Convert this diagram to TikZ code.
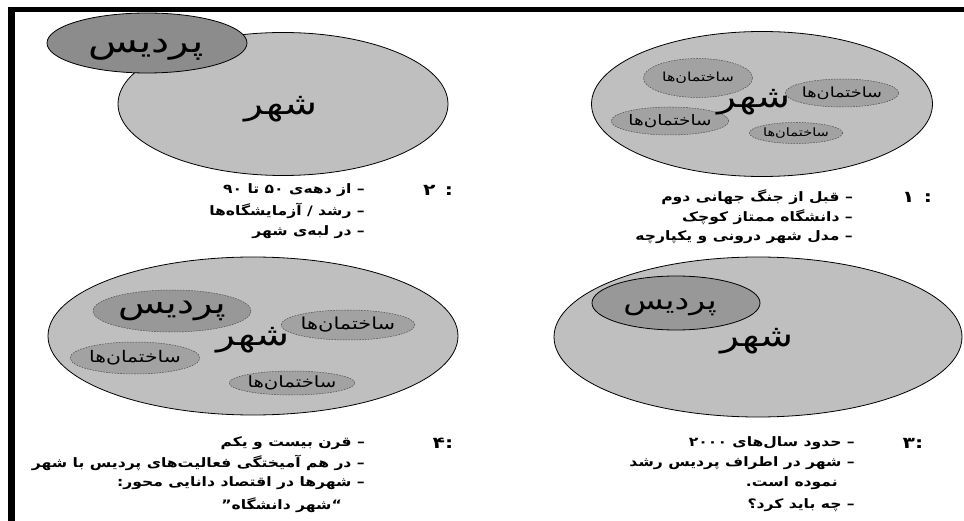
\documentclass[tikz,border=0pt]{standalone}
\usepackage{fontspec}
\usetikzlibrary{shapes.geometric}
\TeXXeTstate=1
\newfontfamily\arabicfont[Script=Arabic, FakeStretch=1.27]{DejaVu Sans}
\newfontfamily\itemarabic[Script=Arabic, FakeStretch=1.2]{DejaVu Sans}
\definecolor{cityfill}{RGB}{191,191,191}
\definecolor{campusdark}{RGB}{140,140,140}
\definecolor{campusmid}{RGB}{152,152,152}
\definecolor{bldgfill}{RGB}{162,162,162}
\newcommand\itemfont{\itemarabic\bfseries\fontsize{13}{15}\selectfont}
\newcommand\fs[1]{\arabicfont\fontsize{#1}{#1}\selectfont}
\begin{document}
\begin{tikzpicture}[x=1pt,y=-1pt,
  city/.style={ellipse, draw=black, line width=0.8pt, fill=cityfill, inner sep=0pt},
  campus/.style={ellipse, draw=black, line width=0.8pt, inner sep=0pt},
  bldg/.style={ellipse, draw=black!70, dash pattern=on 1.6pt off 1.2pt, line width=0.5pt, fill=bldgfill, inner sep=0pt},
  bigword/.style={inner sep=0pt, font=\fs{31}},
  item/.style={anchor=east, inner sep=0pt, font=\itemfont},
  numlabel/.style={inner sep=0pt, font=\arabicfont\bfseries\fontsize{16}{16}\selectfont}
]
\useasboundingbox (0,0) rectangle (964,521);
\fill[white] (0,0) rectangle (964,521);
% frame
\draw[line width=7pt] (11.5,521) -- (11.5,7);
\draw[line width=5pt] (8,9.5) -- (964,9.5);

% ---------- panel 2 (top left)
\node[city, minimum width=330pt, minimum height=143pt] (city2) at (283,104) {};
\node[campus, fill=campusdark, minimum width=200pt, minimum height=60pt] (campus2) at (147,43) {};
\node[inner sep=0pt, font=\fs{32}] (campus2txt) at (146,50) {\beginR پردیس\endR};
\node[bigword] (word2) at (281,109) {\beginR شهر\endR};
\node[numlabel] (num2) at (438,190) {\beginR : ۲\endR};
\node[item] (t2a) at (365,190) {\beginR – از دهه‌ی ۵۰ تا ۹۰\endR};
\node[item] (t2b) at (365,211) {\beginR – رشد / آزمایشگاه‌ها\endR};
\node[item] (t2c) at (365,232) {\beginR – در لبه‌ی شهر\endR};

% ---------- panel 1 (top right)
\node[city, minimum width=341pt, minimum height=145pt] (city1) at (762,104) {};
\node[bldg, minimum width=109pt, minimum height=39pt, font=\fs{12.5}] (b1a) at (698,78) {\beginR ساختمان‌ها\endR};
\node[bldg, minimum width=84pt, minimum height=28pt, font=\fs{14}] (b1b) at (842,93) {\beginR ساختمان‌ها\endR};
\node[bldg, minimum width=86pt, minimum height=28pt, font=\fs{14.5}] (b1c) at (670,121) {\beginR ساختمان‌ها\endR};
\node[bldg, minimum width=76pt, minimum height=21pt, font=\fs{11.5}] (b1d) at (796,133) {\beginR ساختمان‌ها\endR};
\node[bigword] (word1) at (754,102) {\beginR شهر\endR};
\node[numlabel] (num1) at (917,197) {\beginR : ۱\endR};
\node[item] (t1a) at (853,197) {\beginR – قبل از جنگ جهانی دوم\endR};
\node[item] (t1b) at (853,217) {\beginR – دانشگاه ممتاز کوچک\endR};
\node[item] (t1c) at (853,237) {\beginR – مدل شهر درونی و یکپارچه\endR};

% ---------- panel 4 (bottom left)
\node[city, minimum width=410pt, minimum height=158pt] (city4) at (253,336) {};
\node[bldg, fill=campusmid, minimum width=158pt, minimum height=42pt, font=\fs{30}] (campus4) at (172,311) {\beginR پردیس\endR};
\node[bldg, minimum width=104pt, minimum height=30pt, font=\fs{16.5}] (b4a) at (348,325) {\beginR ساختمان‌ها\endR};
\node[bldg, minimum width=94pt, minimum height=32pt, font=\fs{16}] (b4b) at (135,358) {\beginR ساختمان‌ها\endR};
\node[bldg, minimum width=90pt, minimum height=24pt, font=\fs{15.5}] (b4c) at (292,383) {\beginR ساختمان‌ها\endR};
\node[bigword] (word4) at (253,340) {\beginR شهر\endR};
\node[numlabel] (num4) at (443,443) {\beginR :۴\endR};
\node[item] (t4a) at (365,443) {\beginR – قرن بیست و یکم\endR};
\node[item] (t4b) at (365,463) {\beginR – در هم آمیختگی فعالیت‌های پردیس با شهر\endR};
\node[item] (t4c) at (365,483) {\beginR – شهرها در اقتصاد دانایی محور:\endR};
\node[item] (t4d) at (342,505) {\beginR “شهر دانشگاه”\endR};

% ---------- panel 3 (bottom right)
\node[city, minimum width=408pt, minimum height=160pt] (city3) at (758,337) {};
\node[campus, fill=campusmid, minimum width=168pt, minimum height=54pt] (campus3) at (676,303) {};
\node[inner sep=0pt, font=\fs{26}] (campus3txt) at (670,307) {\beginR پردیس\endR};
\node[bigword] (word3) at (757,341) {\beginR شهر\endR};
\node[numlabel] (num3) at (913,443) {\beginR :۳\endR};
\node[item] (t3a) at (855,443) {\beginR – حدود سال‌های ۲۰۰۰\endR};
\node[item] (t3b) at (855,463) {\beginR – شهر در اطراف پردیس رشد\endR};
\node[item] (t3c) at (838,483) {\beginR نموده است.\endR};
\node[item] (t3d) at (855,505) {\beginR – چه باید کرد؟\endR};
\end{tikzpicture}
\end{document}
